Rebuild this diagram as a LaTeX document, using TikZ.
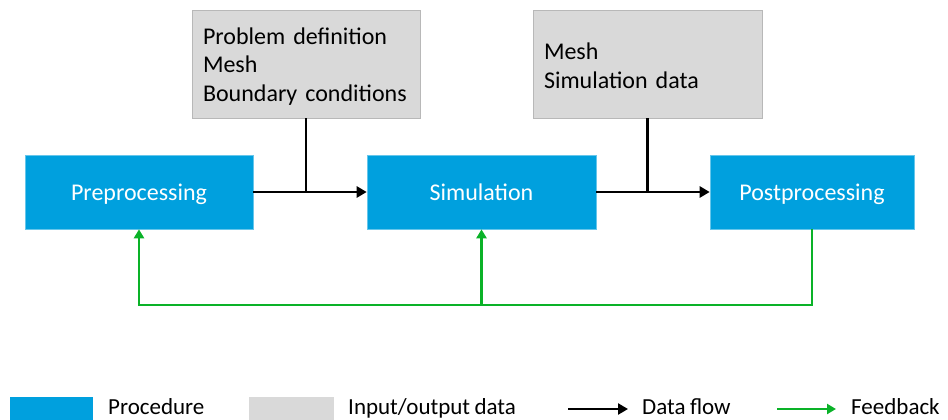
\documentclass[tikz,border=0pt]{standalone}
\usepackage{fontspec}
\setmainfont[WordSpace=0.85]{Carlito}
\usetikzlibrary{arrows.meta}
\definecolor{procblue}{RGB}{0,160,222}
\definecolor{datagray}{RGB}{217,217,217}
\definecolor{fbgreen}{RGB}{10,178,40}
\tikzset{
  proc/.style={fill=procblue, draw=procblue!60!white, line width=0.6pt, text=white, minimum height=74pt, inner sep=0pt, text depth=0pt, font=\fontsize{24}{28}\selectfont},
  iodata/.style={fill=datagray, draw=datagray!85!black, line width=0.6pt, minimum height=108pt, inner sep=0pt},
  iotext/.style={inner sep=0pt, font=\fontsize{24}{28.5}\selectfont, align=left},
  flow/.style={line width=2.8pt, draw=black, -{Triangle[length=10pt,width=11pt]}},
  flowline/.style={line width=2.8pt, draw=black},
  fb/.style={line width=2.6pt, draw=fbgreen, -{Triangle[length=9pt,width=10pt]}},
  legtext/.style={anchor=base west, inner sep=0pt, font=\fontsize{23}{26}\selectfont},
}
\begin{document}
\begin{tikzpicture}[x=1pt,y=-1pt]
\useasboundingbox (0,0) rectangle (948,420);
\begin{scope}
\clip (0,0) rectangle (948,420);
% process boxes
\node[proc, minimum width=228pt] (pre) at (139,192) {Preprocessing};
\node[proc, minimum width=229pt] (sim) at (481.5,192) {Simulation};
\node[proc, minimum width=204pt] (post) at (812,192) {Postprocessing};
% data boxes
\node[iodata, minimum width=228pt] (g1) at (306,64) {};
\node[iotext, text width=206pt] (g1t) at ([yshift=-2.5pt]g1.center) {Problem definition\\Mesh\\Boundary conditions};
\node[iodata, minimum width=229pt] (g2) at (647.5,64) {};
\node[iotext, text width=207pt] (g2t) at ([yshift=-2pt]g2.center) {Mesh\\Simulation data};
% data flow
\draw[flow] (pre.east) -- (sim.west);
\draw[flow] (sim.east) -- (post.west);
\draw[flowline] (g1.south) -- (g1.south |- pre.east);
\draw[flowline] (g2.south) -- (g2.south |- sim.east);
% feedback
\coordinate (fbb) at (0,305);
\draw[fb] (post.south) |- (pre.south |- fbb) -- (pre.south);
\draw[fb] (sim.south |- fbb) -- (sim.south);
% legend
\node[fill=procblue, minimum width=83pt, minimum height=30pt, inner sep=0pt, anchor=north west] (lproc) at (10,397) {};
\node[legtext] (tproc) at (108,414) {Procedure};
\node[fill=datagray, minimum width=85pt, minimum height=30pt, inner sep=0pt, anchor=north west] (ldata) at (249,397) {};
\node[legtext] (tdata) at (348,414) {Input/output data};
\coordinate (fa) at (568,409);
\coordinate (fbx) at (628,409);
\draw[flow] (fa) -- (fbx);
\node[legtext] (tflow) at (642,414) {Data flow};
\coordinate (ga) at (777,409);
\coordinate (gbx) at (836,409);
\draw[fb] (ga) -- (gbx);
\node[legtext] (tfb) at (851,414) {Feedback};
\end{scope}
\end{tikzpicture}
\end{document}
